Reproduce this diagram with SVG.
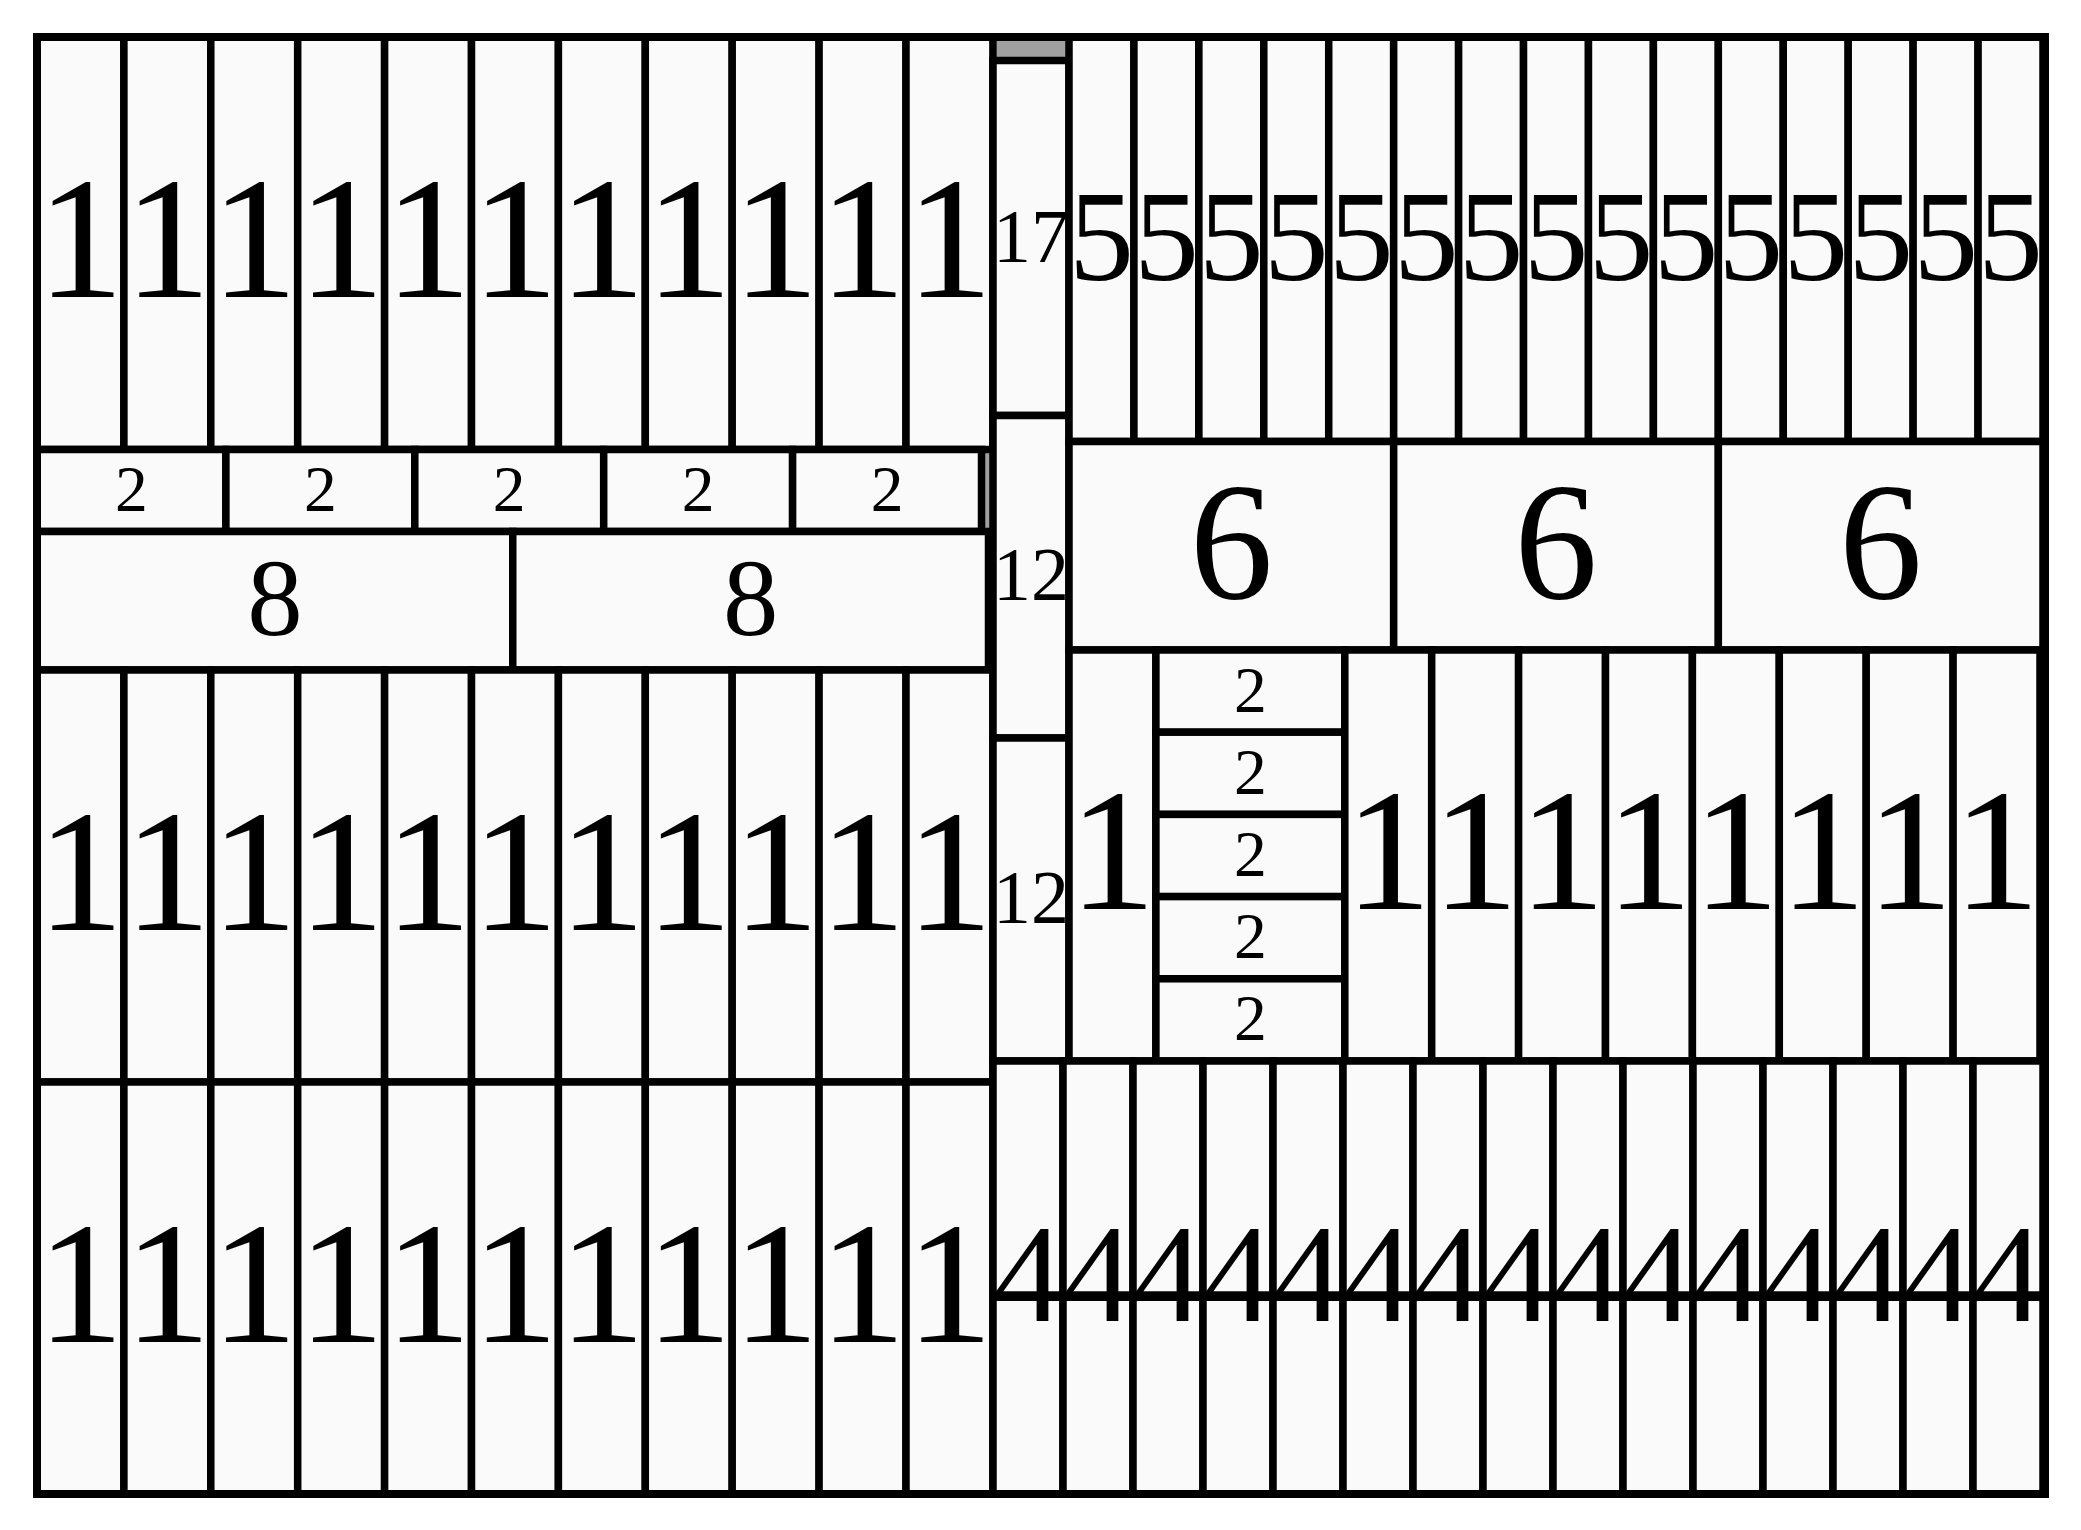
<svg xmlns="http://www.w3.org/2000/svg" width="2081" height="1530" viewBox="0 0 2081 1530">
<style>
.bg{fill:#a0a0a0}
.frame{fill:none;stroke:#000;stroke-width:8}
.c{fill:#fafafa;stroke:#000;stroke-width:7.5}
text{font-family:'Liberation Serif','Times New Roman',Times,serif;text-anchor:middle;fill:#000}
.f1{font-size:173.8px}.f2{font-size:65.6px}.f8{font-size:110.8px}.f12{font-size:76px}
.f5{font-size:129.9px}.f6{font-size:166.8px}.f4{font-size:140px}
</style>
<rect class="bg" x="37" y="37" width="2008" height="1457"/>
<g id="rowA">
<g id="a1"><rect class="c" x="37" y="37" width="86.9" height="412.5"/><text class="f1" x="80.45" y="297.2">1</text></g>
<g id="a2"><rect class="c" x="123.9" y="37" width="86.9" height="412.5"/><text class="f1" x="167.35" y="297.2">1</text></g>
<g id="a3"><rect class="c" x="210.8" y="37" width="86.9" height="412.5"/><text class="f1" x="254.25" y="297.2">1</text></g>
<g id="a4"><rect class="c" x="297.7" y="37" width="86.9" height="412.5"/><text class="f1" x="341.15" y="297.2">1</text></g>
<g id="a5"><rect class="c" x="384.6" y="37" width="86.9" height="412.5"/><text class="f1" x="428.05" y="297.2">1</text></g>
<g id="a6"><rect class="c" x="471.5" y="37" width="86.9" height="412.5"/><text class="f1" x="514.95" y="297.2">1</text></g>
<g id="a7"><rect class="c" x="558.4" y="37" width="86.9" height="412.5"/><text class="f1" x="601.85" y="297.2">1</text></g>
<g id="a8"><rect class="c" x="645.3" y="37" width="86.9" height="412.5"/><text class="f1" x="688.75" y="297.2">1</text></g>
<g id="a9"><rect class="c" x="732.2" y="37" width="86.9" height="412.5"/><text class="f1" x="775.65" y="297.2">1</text></g>
<g id="a10"><rect class="c" x="819.1" y="37" width="86.9" height="412.5"/><text class="f1" x="862.55" y="297.2">1</text></g>
<g id="a11"><rect class="c" x="906" y="37" width="86.9" height="412.5"/><text class="f1" x="949.45" y="297.2">1</text></g>
</g>
<g id="rowB">
<g id="b1"><rect class="c" x="37" y="449.5" width="188.9" height="82"/><text class="f2" x="131.45" y="510.8">2</text></g>
<g id="b2"><rect class="c" x="225.9" y="449.5" width="188.9" height="82"/><text class="f2" x="320.35" y="510.8">2</text></g>
<g id="b3"><rect class="c" x="414.8" y="449.5" width="188.9" height="82"/><text class="f2" x="509.25" y="510.8">2</text></g>
<g id="b4"><rect class="c" x="603.7" y="449.5" width="188.9" height="82"/><text class="f2" x="698.15" y="510.8">2</text></g>
<g id="b5"><rect class="c" x="792.6" y="449.5" width="188.9" height="82"/><text class="f2" x="887.05" y="510.8">2</text></g>
</g>
<g id="rowC">
<g id="c1"><rect class="c" x="37" y="531.5" width="475.75" height="138.5"/><text class="f8" x="274.9" y="635">8</text></g>
<g id="c2"><rect class="c" x="512.75" y="531.5" width="475.75" height="138.5"/><text class="f8" x="750.6" y="635">8</text></g>
</g>
<g id="rowD">
<g id="d1"><rect class="c" x="37" y="670" width="86.9" height="412"/><text class="f1" x="80.45" y="929.9">1</text></g>
<g id="d2"><rect class="c" x="123.9" y="670" width="86.9" height="412"/><text class="f1" x="167.35" y="929.9">1</text></g>
<g id="d3"><rect class="c" x="210.8" y="670" width="86.9" height="412"/><text class="f1" x="254.25" y="929.9">1</text></g>
<g id="d4"><rect class="c" x="297.7" y="670" width="86.9" height="412"/><text class="f1" x="341.15" y="929.9">1</text></g>
<g id="d5"><rect class="c" x="384.6" y="670" width="86.9" height="412"/><text class="f1" x="428.05" y="929.9">1</text></g>
<g id="d6"><rect class="c" x="471.5" y="670" width="86.9" height="412"/><text class="f1" x="514.95" y="929.9">1</text></g>
<g id="d7"><rect class="c" x="558.4" y="670" width="86.9" height="412"/><text class="f1" x="601.85" y="929.9">1</text></g>
<g id="d8"><rect class="c" x="645.3" y="670" width="86.9" height="412"/><text class="f1" x="688.75" y="929.9">1</text></g>
<g id="d9"><rect class="c" x="732.2" y="670" width="86.9" height="412"/><text class="f1" x="775.65" y="929.9">1</text></g>
<g id="d10"><rect class="c" x="819.1" y="670" width="86.9" height="412"/><text class="f1" x="862.55" y="929.9">1</text></g>
<g id="d11"><rect class="c" x="906" y="670" width="86.9" height="412"/><text class="f1" x="949.45" y="929.9">1</text></g>
</g>
<g id="rowE">
<g id="e1"><rect class="c" x="37" y="1082" width="86.9" height="412"/><text class="f1" x="80.45" y="1341.9">1</text></g>
<g id="e2"><rect class="c" x="123.9" y="1082" width="86.9" height="412"/><text class="f1" x="167.35" y="1341.9">1</text></g>
<g id="e3"><rect class="c" x="210.8" y="1082" width="86.9" height="412"/><text class="f1" x="254.25" y="1341.9">1</text></g>
<g id="e4"><rect class="c" x="297.7" y="1082" width="86.9" height="412"/><text class="f1" x="341.15" y="1341.9">1</text></g>
<g id="e5"><rect class="c" x="384.6" y="1082" width="86.9" height="412"/><text class="f1" x="428.05" y="1341.9">1</text></g>
<g id="e6"><rect class="c" x="471.5" y="1082" width="86.9" height="412"/><text class="f1" x="514.95" y="1341.9">1</text></g>
<g id="e7"><rect class="c" x="558.4" y="1082" width="86.9" height="412"/><text class="f1" x="601.85" y="1341.9">1</text></g>
<g id="e8"><rect class="c" x="645.3" y="1082" width="86.9" height="412"/><text class="f1" x="688.75" y="1341.9">1</text></g>
<g id="e9"><rect class="c" x="732.2" y="1082" width="86.9" height="412"/><text class="f1" x="775.65" y="1341.9">1</text></g>
<g id="e10"><rect class="c" x="819.1" y="1082" width="86.9" height="412"/><text class="f1" x="862.55" y="1341.9">1</text></g>
<g id="e11"><rect class="c" x="906" y="1082" width="86.9" height="412"/><text class="f1" x="949.45" y="1341.9">1</text></g>
</g>
<g id="middle">
<g id="m17"><rect class="c" x="993" y="60.5" width="76" height="355"/><text class="f12" x="1031" y="261.6">17</text></g>
<g id="m12a"><rect class="c" x="993" y="415.5" width="76" height="322.5"/><text class="f12" x="1031" y="600.3">12</text></g>
<g id="m12b"><rect class="c" x="993" y="738" width="76" height="323"/><text class="f12" x="1031" y="923">12</text></g>
</g>
<g id="row5">
<g id="p1"><rect class="c" x="1069" y="37" width="64.93" height="404.5"/><text class="f5" x="1101.47" y="279.5">5</text></g>
<g id="p2"><rect class="c" x="1133.93" y="37" width="64.93" height="404.5"/><text class="f5" x="1166.4" y="279.5">5</text></g>
<g id="p3"><rect class="c" x="1198.87" y="37" width="64.93" height="404.5"/><text class="f5" x="1231.33" y="279.5">5</text></g>
<g id="p4"><rect class="c" x="1263.8" y="37" width="64.93" height="404.5"/><text class="f5" x="1296.27" y="279.5">5</text></g>
<g id="p5"><rect class="c" x="1328.73" y="37" width="64.93" height="404.5"/><text class="f5" x="1361.2" y="279.5">5</text></g>
<g id="p6"><rect class="c" x="1393.67" y="37" width="64.93" height="404.5"/><text class="f5" x="1426.13" y="279.5">5</text></g>
<g id="p7"><rect class="c" x="1458.6" y="37" width="64.93" height="404.5"/><text class="f5" x="1491.07" y="279.5">5</text></g>
<g id="p8"><rect class="c" x="1523.53" y="37" width="64.93" height="404.5"/><text class="f5" x="1556" y="279.5">5</text></g>
<g id="p9"><rect class="c" x="1588.47" y="37" width="64.93" height="404.5"/><text class="f5" x="1620.93" y="279.5">5</text></g>
<g id="p10"><rect class="c" x="1653.4" y="37" width="64.93" height="404.5"/><text class="f5" x="1685.87" y="279.5">5</text></g>
<g id="p11"><rect class="c" x="1718.33" y="37" width="64.93" height="404.5"/><text class="f5" x="1750.8" y="279.5">5</text></g>
<g id="p12"><rect class="c" x="1783.27" y="37" width="64.93" height="404.5"/><text class="f5" x="1815.73" y="279.5">5</text></g>
<g id="p13"><rect class="c" x="1848.2" y="37" width="64.93" height="404.5"/><text class="f5" x="1880.67" y="279.5">5</text></g>
<g id="p14"><rect class="c" x="1913.13" y="37" width="64.93" height="404.5"/><text class="f5" x="1945.6" y="279.5">5</text></g>
<g id="p15"><rect class="c" x="1978.07" y="37" width="64.93" height="404.5"/><text class="f5" x="2010.53" y="279.5">5</text></g>
</g>
<g id="row6">
<g id="s1"><rect class="c" x="1069" y="441.5" width="324.67" height="208.5"/><text class="f6" x="1231.33" y="597.5">6</text></g>
<g id="s2"><rect class="c" x="1393.67" y="441.5" width="324.67" height="208.5"/><text class="f6" x="1556" y="597.5">6</text></g>
<g id="s3"><rect class="c" x="1718.33" y="441.5" width="324.67" height="208.5"/><text class="f6" x="1880.67" y="597.5">6</text></g>
</g>
<g id="rowR3">
<g id="r1"><rect class="c" x="1069" y="650" width="86.9" height="411"/><text class="f1" x="1112.45" y="909.4">1</text></g>
<g id="q1"><rect class="c" x="1155.9" y="650" width="188.9" height="82.2"/><text class="f2" x="1250.35" y="711.5">2</text></g>
<g id="q2"><rect class="c" x="1155.9" y="732.2" width="188.9" height="82.2"/><text class="f2" x="1250.35" y="793.7">2</text></g>
<g id="q3"><rect class="c" x="1155.9" y="814.4" width="188.9" height="82.2"/><text class="f2" x="1250.35" y="875.9">2</text></g>
<g id="q4"><rect class="c" x="1155.9" y="896.6" width="188.9" height="82.2"/><text class="f2" x="1250.35" y="958.1">2</text></g>
<g id="q5"><rect class="c" x="1155.9" y="978.8" width="188.9" height="82.2"/><text class="f2" x="1250.35" y="1040.3">2</text></g>
<g id="r2"><rect class="c" x="1344.8" y="650" width="86.9" height="411"/><text class="f1" x="1388.25" y="909.4">1</text></g>
<g id="r3"><rect class="c" x="1431.7" y="650" width="86.9" height="411"/><text class="f1" x="1475.15" y="909.4">1</text></g>
<g id="r4"><rect class="c" x="1518.6" y="650" width="86.9" height="411"/><text class="f1" x="1562.05" y="909.4">1</text></g>
<g id="r5"><rect class="c" x="1605.5" y="650" width="86.9" height="411"/><text class="f1" x="1648.95" y="909.4">1</text></g>
<g id="r6"><rect class="c" x="1692.4" y="650" width="86.9" height="411"/><text class="f1" x="1735.85" y="909.4">1</text></g>
<g id="r7"><rect class="c" x="1779.3" y="650" width="86.9" height="411"/><text class="f1" x="1822.75" y="909.4">1</text></g>
<g id="r8"><rect class="c" x="1866.2" y="650" width="86.9" height="411"/><text class="f1" x="1909.65" y="909.4">1</text></g>
<g id="r9"><rect class="c" x="1953.1" y="650" width="86.9" height="411"/><text class="f1" x="1996.55" y="909.4">1</text></g>
</g>
<g id="row4">
<g id="u1"><rect class="c" x="993" y="1061" width="70" height="433"/><text class="f4" x="1028" y="1320.9">4</text></g>
<g id="u2"><rect class="c" x="1063" y="1061" width="70" height="433"/><text class="f4" x="1098" y="1320.9">4</text></g>
<g id="u3"><rect class="c" x="1133" y="1061" width="70" height="433"/><text class="f4" x="1168" y="1320.9">4</text></g>
<g id="u4"><rect class="c" x="1203" y="1061" width="70" height="433"/><text class="f4" x="1238" y="1320.9">4</text></g>
<g id="u5"><rect class="c" x="1273" y="1061" width="70" height="433"/><text class="f4" x="1308" y="1320.9">4</text></g>
<g id="u6"><rect class="c" x="1343" y="1061" width="70" height="433"/><text class="f4" x="1378" y="1320.9">4</text></g>
<g id="u7"><rect class="c" x="1413" y="1061" width="70" height="433"/><text class="f4" x="1448" y="1320.9">4</text></g>
<g id="u8"><rect class="c" x="1483" y="1061" width="70" height="433"/><text class="f4" x="1518" y="1320.9">4</text></g>
<g id="u9"><rect class="c" x="1553" y="1061" width="70" height="433"/><text class="f4" x="1588" y="1320.9">4</text></g>
<g id="u10"><rect class="c" x="1623" y="1061" width="70" height="433"/><text class="f4" x="1658" y="1320.9">4</text></g>
<g id="u11"><rect class="c" x="1693" y="1061" width="70" height="433"/><text class="f4" x="1728" y="1320.9">4</text></g>
<g id="u12"><rect class="c" x="1763" y="1061" width="70" height="433"/><text class="f4" x="1798" y="1320.9">4</text></g>
<g id="u13"><rect class="c" x="1833" y="1061" width="70" height="433"/><text class="f4" x="1868" y="1320.9">4</text></g>
<g id="u14"><rect class="c" x="1903" y="1061" width="70" height="433"/><text class="f4" x="1938" y="1320.9">4</text></g>
<g id="u15"><rect class="c" x="1973" y="1061" width="70" height="433"/><text class="f4" x="2008" y="1320.9">4</text></g>
</g>
<g id="connectors"></g>
<rect class="frame" x="37" y="37" width="2008" height="1457"/>
</svg>
